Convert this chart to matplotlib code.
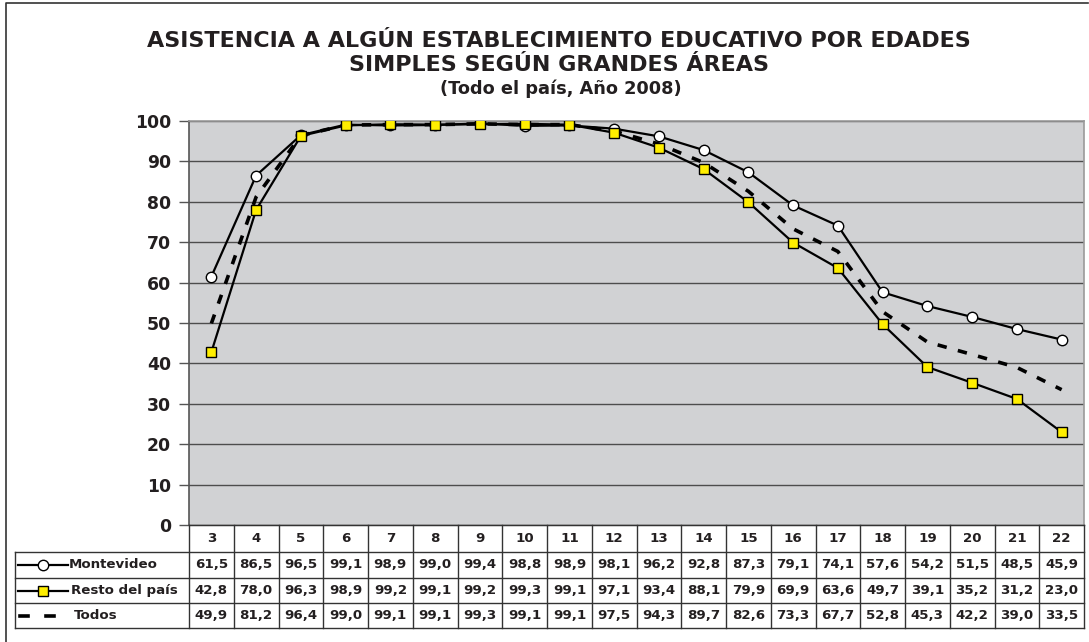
import matplotlib.pyplot as plt
from matplotlib.lines import Line2D

edades = ['3', '4', '5', '6', '7', '8', '9', '10', '11', '12', '13',
          '14', '15', '16', '17', '18', '19', '20', '21', '22']
montevideo = [61.5, 86.5, 96.5, 99.1, 98.9, 99.0, 99.4, 98.8, 98.9, 98.1,
              96.2, 92.8, 87.3, 79.1, 74.1, 57.6, 54.2, 51.5, 48.5, 45.9]
resto = [42.8, 78.0, 96.3, 98.9, 99.2, 99.1, 99.2, 99.3, 99.1, 97.1,
         93.4, 88.1, 79.9, 69.9, 63.6, 49.7, 39.1, 35.2, 31.2, 23.0]
todos = [49.9, 81.2, 96.4, 99.0, 99.1, 99.1, 99.3, 99.1, 99.1, 97.5,
         94.3, 89.7, 82.6, 73.3, 67.7, 52.8, 45.3, 42.2, 39.0, 33.5]
series_names = ['Montevideo', 'Resto del país', 'Todos']

W, H = 1089, 642
txt = '#231f20'
plt.rcParams['font.family'] = ['DejaVu Sans']

fig = plt.figure(figsize=(W / 100, H / 100), dpi=100)

def fx(px):
    return px / W

def fy(py):
    return 1 - py / H

# plot area in pixels
left, right, top, bottom = 189, 1084, 121, 525
ax = fig.add_axes([fx(left), fy(bottom), fx(right - left), (bottom - top) / H])
ax.set_facecolor('#d1d2d4')
n = len(edades)
x = list(range(n))

ax.plot(x, todos, color='black', lw=2.6, dashes=(2.6, 3.2), zorder=3)
ax.plot(x, montevideo, color='black', lw=1.6, marker='o', ms=7.5,
        mfc='white', mec='black', mew=1, zorder=4)
ax.plot(x, resto, color='black', lw=1.6, marker='s', ms=7.5,
        mfc='#ffee00', mec='black', mew=1, zorder=5)

ax.set_xlim(-0.5, n - 0.5)
ax.set_ylim(0, 100)
ax.set_yticks(range(0, 101, 10))
ax.set_yticklabels([str(v) for v in range(0, 101, 10)], fontsize=12.4,
                   fontweight='bold', color=txt)
ax.set_xticks([])
ax.tick_params(axis='y', length=7, width=1, color='#555555', pad=6)
ax.yaxis.grid(True, color='#4d4d4d', lw=1)
ax.set_axisbelow(True)
for s in ['top', 'right']:
    ax.spines[s].set_color('#9a9a9a')
    ax.spines[s].set_linewidth(1.2)
ax.spines['left'].set_color('#555555')
ax.spines['left'].set_linewidth(1.2)
ax.spines['bottom'].set_color('#555555')

# titles
fig.text(fx(559), fy(47), 'ASISTENCIA A ALGÚN ESTABLECIMIENTO EDUCATIVO POR EDADES',
         ha='center', va='baseline', fontsize=16, fontweight='bold', color=txt)
fig.text(fx(559), fy(71), 'SIMPLES SEGÚN GRANDES ÁREAS',
         ha='center', va='baseline', fontsize=16, fontweight='bold', color=txt)
fig.text(fx(561), fy(94), '(Todo el país, Año 2008)',
         ha='center', va='baseline', fontsize=12.8, fontweight='bold', color=txt)

# data table below the plot
col_w = (right - left) / n
rows_y = [525, 552, 578, 603, 628]
leg_left = 15
lc = '#333333'
fs = 9.6

def hline(x0, x1, y, **kw):
    fig.add_artist(Line2D([fx(x0), fx(x1)], [fy(y), fy(y)], color=lc, lw=1, **kw))

def vline(xp, y0, y1):
    fig.add_artist(Line2D([fx(xp), fx(xp)], [fy(y0), fy(y1)], color=lc, lw=1))

hline(left, right, rows_y[0])
for y in rows_y[1:]:
    hline(leg_left, right, y)
for i in range(n + 1):
    vline(left + i * col_w, rows_y[0], rows_y[-1])
vline(leg_left, rows_y[1], rows_y[-1])

for i, e in enumerate(edades):
    cx = left + (i + 0.5) * col_w
    fig.text(fx(cx), fy((rows_y[0] + rows_y[1]) / 2), e, ha='center', va='center',
             fontsize=fs, fontweight='bold', color=txt)

for r, vals in enumerate([montevideo, resto, todos]):
    cy = (rows_y[r + 1] + rows_y[r + 2]) / 2
    for i, v in enumerate(vals):
        cx = left + (i + 0.5) * col_w
        fig.text(fx(cx), fy(cy), f'{v:.1f}'.replace('.', ','), ha='center',
                 va='center', fontsize=fs, fontweight='bold', color=txt)

# legend keys in the first column
cy = (rows_y[1] + rows_y[2]) / 2
fig.add_artist(Line2D([fx(18), fx(68)], [fy(cy), fy(cy)], color='black', lw=1.6))
fig.add_artist(Line2D([fx(43)], [fy(cy)], marker='o', ms=7.5, mfc='white', mec='black', mew=1))
cy2 = (rows_y[2] + rows_y[3]) / 2
fig.add_artist(Line2D([fx(18), fx(68)], [fy(cy2), fy(cy2)], color='black', lw=1.6))
fig.add_artist(Line2D([fx(43)], [fy(cy2)], marker='s', ms=7.5, mfc='#ffee00', mec='black', mew=1))
cy3 = (rows_y[3] + rows_y[4]) / 2
fig.add_artist(Line2D([fx(20), fx(28)], [fy(cy3), fy(cy3)], color='black', lw=2.6))
fig.add_artist(Line2D([fx(46), fx(54)], [fy(cy3), fy(cy3)], color='black', lw=2.6))
for lab, cyy, xx in zip(series_names, [cy, cy2, cy3], [69, 71, 74]):
    fig.text(fx(xx), fy(cyy), lab, ha='left', va='center', fontsize=fs,
             fontweight='bold', color=txt)

# outer frame
fig.add_artist(Line2D([fx(6), fx(6), fx(1088)], [fy(H), fy(3), fy(3)], color='#333333', lw=1.2))

fig.savefig('out.png', dpi=100)
